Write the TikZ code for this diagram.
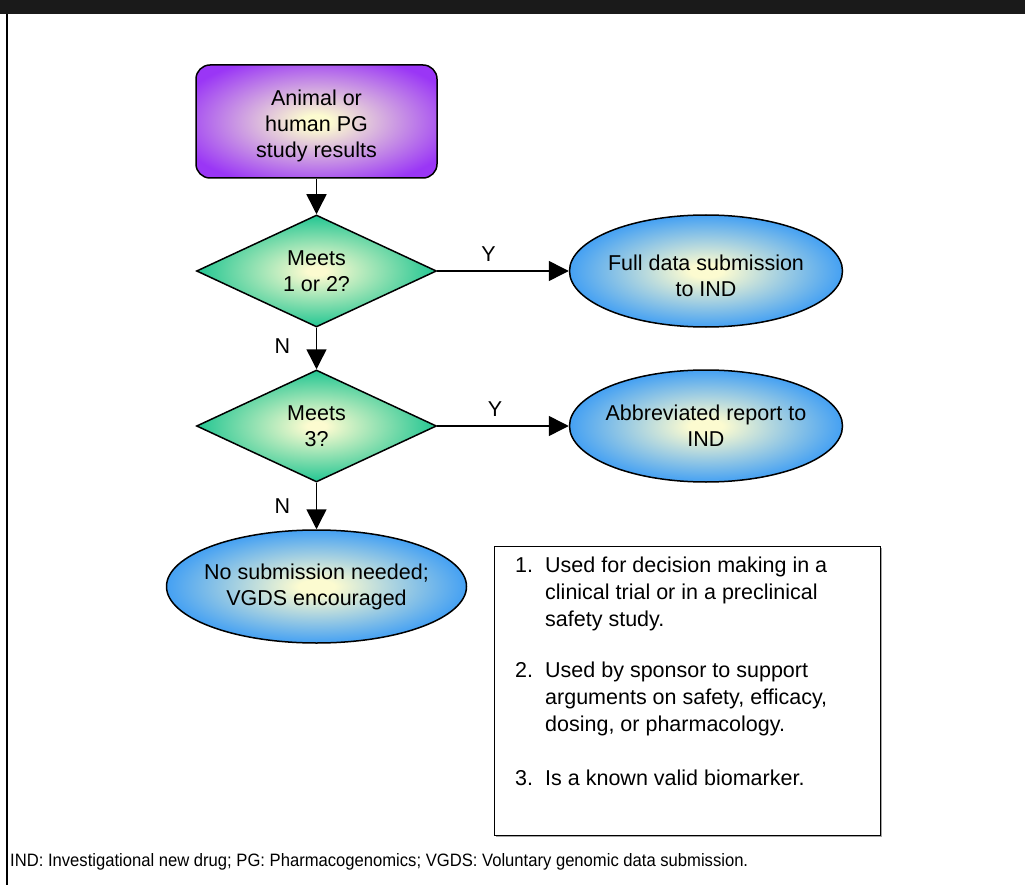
\documentclass[tikz,border=0pt]{standalone}
\usepackage{fontspec}
\setmainfont{Liberation Sans}
\usetikzlibrary{shapes.geometric,arrows.meta}
\definecolor{glowc}{HTML}{FCFBD0}
\definecolor{purplec}{HTML}{9A36F6}
\definecolor{greenc}{HTML}{2CC895}
\definecolor{bluec}{HTML}{1B8CFB}
\definecolor{barc}{HTML}{1A1A1A}
\pgfdeclareradialshading{purpleglow}{\pgfpoint{0bp}{0bp}}{color(0bp)=(glowc);color(3bp)=(glowc);color(30bp)=(purplec);color(50bp)=(purplec)}
\pgfdeclareradialshading{greenglow}{\pgfpoint{0bp}{0bp}}{color(0bp)=(glowc);color(2bp)=(glowc);color(24bp)=(greenc);color(50bp)=(greenc)}
\pgfdeclareradialshading{blueglow}{\pgfpoint{0bp}{0bp}}{color(0bp)=(glowc);color(3bp)=(glowc);color(30bp)=(bluec);color(50bp)=(bluec)}
\newcommand{\shifttext}[2]{\raisebox{#1}[\height][\depth]{\begin{tabular}{@{}c@{}}#2\end{tabular}}}
\begin{document}
\begin{tikzpicture}[x=1pt,y=-1pt,
  every node/.style={font=\fontsize{21.5}{26}\selectfont},
  startbox/.style={rectangle, rounded corners=14pt, draw=black, line width=1.5pt, shade, shading=purpleglow, minimum width=241pt, minimum height=113pt, inner sep=0pt, align=center},
  decision/.style={diamond, aspect=2.14, draw=black, line width=1.5pt, shade, shading=greenglow, minimum width=240pt, minimum height=112pt, inner sep=0pt, align=center},
  outcome/.style={ellipse, draw=black, line width=1.5pt, shade, shading=blueglow, minimum height=112pt, inner xsep=-25pt, inner ysep=0pt, align=center},
  flow/.style={line width=1.5pt, -{Triangle[length=20pt,width=20pt]}},
  lbl/.style={inner sep=0pt},
  legtext/.style={anchor=base west, inner sep=0pt, font=\fontsize{21.5}{27}\selectfont}
]
\useasboundingbox (0,0) rectangle (1025,885);
\fill[white] (0,0) rectangle (1025,885);
\fill[barc] (0,0) rectangle (1025,14);
\draw[line width=2pt] (6.5,14) -- (6.5,885);

\node[startbox] (start) at (316.5,121.5) {\shifttext{-5pt}{Animal or\\human PG\\study results}};
\node[decision] (d1) at (316.5,271) {Meets\\1 or 2?};
\node[decision] (d2) at (316.5,426) {Meets\\3?};
\node[outcome, minimum width=273pt] (e1) at (706,271) {\shifttext{-7pt}{Full data submission\\to IND}};
\node[outcome, minimum width=273pt] (e2) at (706,426) {\shifttext{-2pt}{Abbreviated report to\\IND}};
\node[outcome, minimum width=300pt, minimum height=113pt] (e3) at (316.5,586.5) {No submission needed;\\VGDS encouraged};

\draw[flow] (start.south) -- (d1.north);
\draw[flow] (d1.south) -- node[lbl, pos=0.45, xshift=-34pt] {N} (d2.north);
\draw[flow] (d2.south) -- node[lbl, pos=0.5, xshift=-34pt] {N} (e3.north);
\draw[flow] (d1.east) -- node[lbl, pos=0.39, yshift=17pt] {Y} (e1.west);
\draw[flow] (d2.east) -- node[lbl, pos=0.44, yshift=17pt] {Y} (e2.west);

\fill[gray!70] (496,548) rectangle (882,837);
\node[draw=black, fill=white, line width=1pt, minimum width=386pt, minimum height=289pt, inner sep=0pt] (legend) at (687,690.5) {};
\node[legtext] (n1) at (515,572) {1.};
\node[legtext] (t1a) at (545,572) {Used for decision making in a};
\node[legtext] (t1b) at (545,599) {clinical trial or in a preclinical};
\node[legtext] (t1c) at (545,626) {safety study.};
\node[legtext] (n2) at (515,677) {2.};
\node[legtext] (t2a) at (545,677) {Used by sponsor to support};
\node[legtext] (t2b) at (545,704) {arguments on safety, efficacy,};
\node[legtext] (t2c) at (545,731) {dosing, or pharmacology.};
\node[legtext] (n3) at (515,785) {3.};
\node[legtext] (t3a) at (545,785) {Is a known valid biomarker.};

\node[anchor=base west, inner sep=0pt] (foot) at (10,866) {\resizebox{738pt}{13pt}{IND: Investigational new drug; PG: Pharmacogenomics; VGDS: Voluntary genomic data submission.}};
\end{tikzpicture}
\end{document}
